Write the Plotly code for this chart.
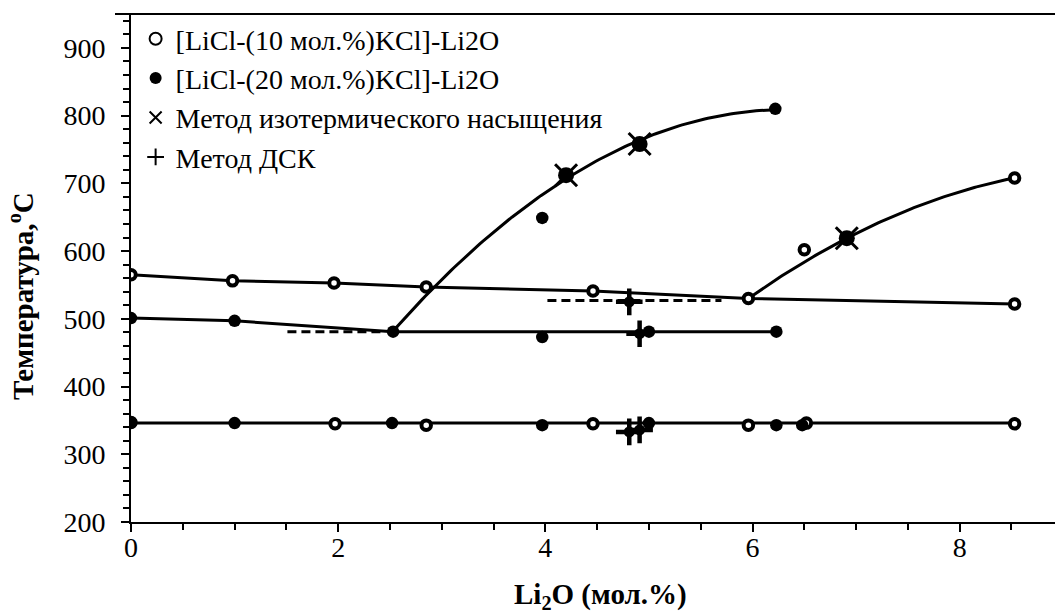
import numpy as np
import plotly.graph_objects as go

# ---------------- data ----------------
# [LiCl-(10 mol.%)KCl]-Li2O  (open circles)
s10_liq_x = [0, 0.98, 1.96, 2.85, 4.46, 5.96, 8.53]
s10_liq_y = [565, 556, 553, 547, 541, 530, 522]
s10_up_x = [6.50, 8.53]
s10_up_y = [602, 708]
s10_eut_x = [0, 1.97, 2.85, 4.46, 5.96, 6.52, 8.53]
s10_eut_y = [347, 345, 343, 345, 343, 346, 345]

# [LiCl-(20 mol.%)KCl]-Li2O  (filled circles)
s20_liq_x = [0, 1.00, 2.53]
s20_liq_y = [501, 497, 481]
s20_mid_x = [3.97, 5.00, 6.23]
s20_mid_y = [473, 481, 481]
s20_up_x = [3.97, 6.22]
s20_up_y = [649, 810]
s20_eut_x = [0, 1.00, 2.52, 3.97, 5.00, 6.23, 6.48]
s20_eut_y = [347, 346, 346, 343, 346, 343, 343]

# isothermal saturation method
iso_x = [4.20, 4.91, 6.91]
iso_y = [712, 758, 619]

# DSC method
dsc_x = [4.81, 4.91, 4.81, 4.91]
dsc_y = [525, 478, 333, 336]

# phase-boundary lines
eut_T = 346
eut_x = [0, 8.53]
line20_x = [0, 1.00, 2.53, 6.23]
line20_y = [501, 497, 481, 481]
curve20_x = [2.53, 4.20, 4.91, 6.22]     # points the 20% liquidus trend passes through
curve20_y = [481, 712, 758, 810]
curve10_x = [5.96, 6.91, 8.53]           # points the 10% liquidus trend passes through
curve10_y = [530, 619, 708]
dash1_x = [1.51, 2.45]
dash1_y = [481, 481]
dash2_x = [4.02, 5.70]
dash2_y = [527, 527]

x_ticks = [0, 2, 4, 6, 8]
y_ticks = [200, 300, 400, 500, 600, 700, 800, 900]

legend_names = ["[LiCl-(10 мол.%)KCl]-Li2O", "[LiCl-(20 мол.%)KCl]-Li2O",
                "Метод изотермического насыщения", "Метод ДСК"]

FONT = "Liberation Serif, Tinos, Times New Roman, DejaVu Serif, serif"
LW = 3

fig = go.Figure()

def line(x, y, dash="solid"):
    fig.add_trace(go.Scatter(x=x, y=y, mode="lines", showlegend=False, hoverinfo="skip",
                             line=dict(color="black", width=LW, dash=dash)))

def trend(x, y, deg=2):
    # second-order polynomial trendline through the measured points
    c = np.polyfit(x, y, deg)
    xs = np.linspace(min(x), max(x), 120)
    return xs, np.polyval(c, xs)

# lines
line(s10_liq_x, s10_liq_y)
tx, ty = trend(curve10_x, curve10_y)
line(tx, ty)
line(line20_x, line20_y)
tx, ty = trend(curve20_x, curve20_y)
line(tx, ty)
line(eut_x, [eut_T] * len(eut_x))
line(dash1_x, dash1_y, dash="9px,5px")
line(dash2_x, dash2_y, dash="9px,5px")

# blobs under isothermal / DSC markers
fig.add_trace(go.Scatter(x=iso_x, y=iso_y, mode="markers", showlegend=False, hoverinfo="skip",
                         marker=dict(symbol="circle", size=16, color="black")))
fig.add_trace(go.Scatter(x=dsc_x, y=dsc_y, mode="markers", showlegend=False, hoverinfo="skip",
                         marker=dict(symbol="circle", size=11, color="black")))

# 10% series
fig.add_trace(go.Scatter(x=s10_liq_x + s10_up_x + s10_eut_x,
                         y=s10_liq_y + s10_up_y + s10_eut_y,
                         mode="markers", name=legend_names[0], legendgroup="a",
                         marker=dict(symbol="circle", size=9.5, color="white",
                                     line=dict(color="black", width=4))))
# 20% series
fig.add_trace(go.Scatter(x=s20_liq_x + s20_mid_x + s20_up_x + s20_eut_x,
                         y=s20_liq_y + s20_mid_y + s20_up_y + s20_eut_y,
                         mode="markers", name=legend_names[1], legendgroup="b",
                         marker=dict(symbol="circle", size=12.5, color="black")))
# isothermal
fig.add_trace(go.Scatter(x=iso_x, y=iso_y, mode="markers", name=legend_names[2], legendgroup="c",
                         marker=dict(symbol="x-thin-open", size=22, color="black",
                                     line=dict(color="black", width=3))))
# DSC
fig.add_trace(go.Scatter(x=dsc_x, y=dsc_y, mode="markers", name=legend_names[3], legendgroup="d",
                         marker=dict(symbol="cross-thin-open", size=19, color="black",
                                     line=dict(color="black", width=4.5))))

axis_common = dict(showline=True, linecolor="black", linewidth=2, ticks="outside",
                   tickcolor="black", tickwidth=2, ticklen=8, showgrid=False, zeroline=False,
                   tickfont=dict(family=FONT, size=28, color="black"))

fig.update_xaxes(range=[0, 8.92], tickvals=x_ticks, ticklabelstandoff=-9,
                 minor=dict(dtick=0.5, tick0=0, ticks="outside", ticklen=6, tickwidth=2,
                            tickcolor="black", showgrid=False),
                 **axis_common)
fig.update_yaxes(range=[200, 950], tickvals=y_ticks, ticklabelstandoff=10,
                 minor=dict(dtick=20, tick0=200, ticks="outside", ticklen=6, tickwidth=2,
                            tickcolor="black", showgrid=False),
                 **axis_common)

fig.update_layout(
    width=1055, height=613,
    margin=dict(l=131, r=0, t=14, b=91),
    paper_bgcolor="white", plot_bgcolor="white",
    font=dict(family=FONT, color="black"),
    legend=dict(x=0.005, y=1.0, xanchor="left", yanchor="top", bgcolor="rgba(0,0,0,0)",
                font=dict(family=FONT, size=28, color="black"),
                traceorder="grouped", tracegroupgap=0, itemsizing="constant"),
    shapes=[dict(type="line", xref="paper", yref="paper", x0=-16 / 924, x1=1, y0=1, y1=1,
                 line=dict(color="black", width=2))],
    annotations=[
        dict(text="Li<sub>2</sub>O (мол.%)", xref="paper", yref="paper", x=0.508, y=-0.145,
             xanchor="center", yanchor="middle", showarrow=False,
             font=dict(family=FONT, size=29, color="black", weight="bold")),
        dict(text="Температура,<sup>o</sup>C", xref="paper", yref="paper", x=-110 / 924, y=0.445,
             xanchor="center", yanchor="middle", textangle=-90, showarrow=False,
             font=dict(family=FONT, size=29, color="black", weight="bold")),
    ],
)

fig.write_html("out.html")
